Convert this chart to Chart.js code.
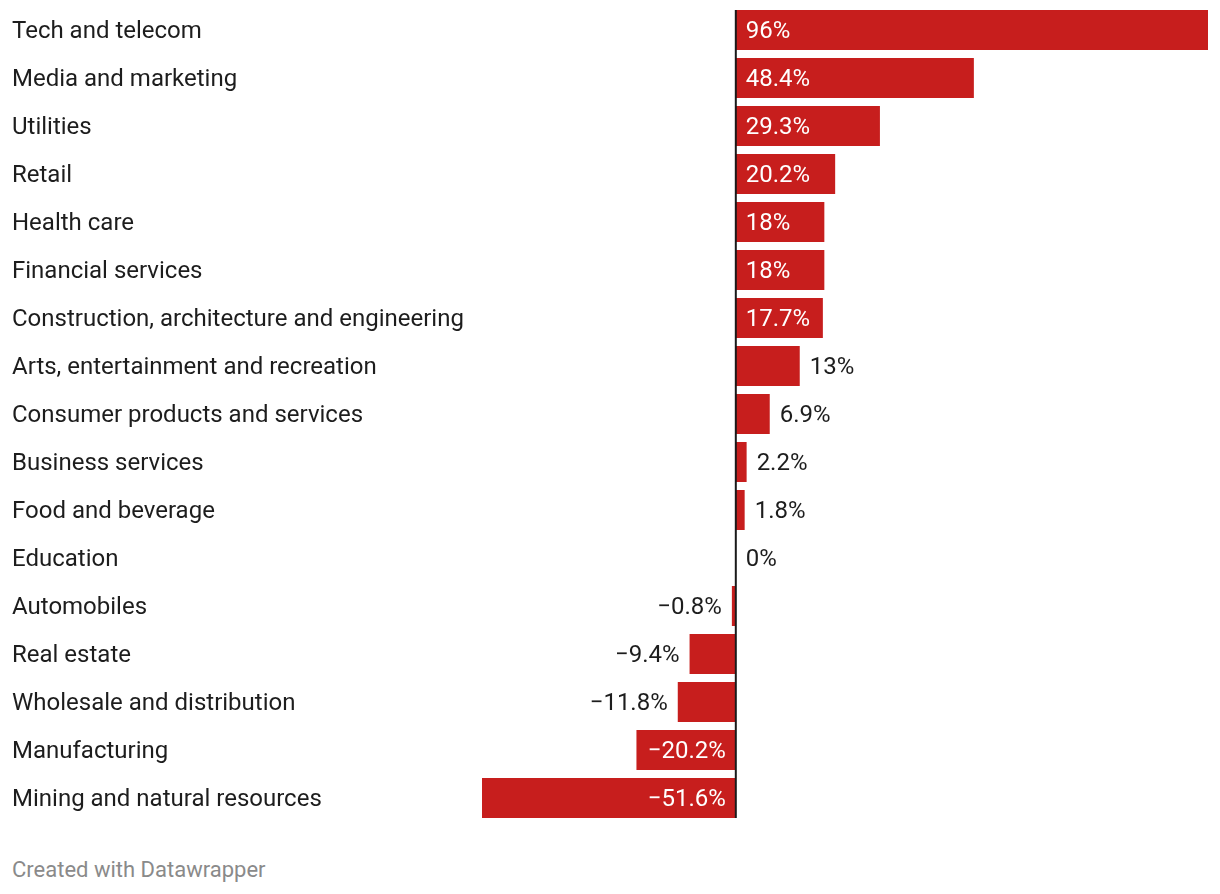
<!DOCTYPE html>
<html>
	<head>
		<meta charset="UTF-8">
		<title>Change by industry</title>
		<script src="https://cdn.jsdelivr.net/npm/chart.js@4/dist/chart.umd.min.js"></script>
		<style type="text/css">
			*{
				margin: 0;
				padding: 0;
			}
			body{
				background: #fff;
				width: 1220px;
				height: 894px;
				position: relative;
				font-family: Roboto, sans-serif;
			}
			#wrap{
				position: absolute;
				left: 0;
				top: 0;
				width: 1220px;
				height: 830px;
			}
			#credit{
				position: absolute;
				left: 12px;
				top: 857px;
				font-size: 22px;
				line-height: 26px;
				color: #8a8a8a;
			}
		</style>
	</head>
	<body>
		<div id="wrap"><canvas id="bars"></canvas></div>
		<div id="credit">Created with Datawrapper</div>
		<script type="text/javascript">
			var industries = [
				"Tech and telecom",
				"Media and marketing",
				"Utilities",
				"Retail",
				"Health care",
				"Financial services",
				"Construction, architecture and engineering",
				"Arts, entertainment and recreation",
				"Consumer products and services",
				"Business services",
				"Food and beverage",
				"Education",
				"Automobiles",
				"Real estate",
				"Wholesale and distribution",
				"Manufacturing",
				"Mining and natural resources"
			];
			var change = [96, 48.4, 29.3, 20.2, 18, 18, 17.7, 13, 6.9, 2.2, 1.8, 0, -0.8, -9.4, -11.8, -20.2, -51.6];

			var red = "#c71e1d";
			var font = "Roboto, sans-serif";

			function fmt(v){
				return (v < 0 ? "\u2212" + Math.abs(v) : "" + v) + "%";
			}

			// zero line + value labels
			var valueLabels = {
				id: "valueLabels",
				afterDatasetsDraw: function(chart){
					var ctx = chart.ctx;
					var xs = chart.scales.x;
					var meta = chart.getDatasetMeta(0);
					var x0 = xs.getPixelForValue(0);
					ctx.save();
					ctx.font = "24px " + font;
					ctx.textBaseline = "middle";
					meta.data.forEach(function(bar, i){
						var v = change[i];
						var txt = fmt(v);
						// fit test uses the number without its sign
						var w = ctx.measureText(Math.abs(v) + "%").width;
						var bw = Math.abs(bar.x - x0);
						var inside = bw > w + 22;
						var y = bar.y + 2;
						if(v >= 0){
							ctx.textAlign = "left";
							if(inside){
								ctx.fillStyle = "#fff";
								ctx.fillText(txt, x0 + 10, y);
							}else{
								ctx.fillStyle = "#1d1d1d";
								ctx.fillText(txt, bar.x + 10, y);
							}
						}else{
							ctx.textAlign = "right";
							if(inside){
								ctx.fillStyle = "#fff";
								ctx.fillText(txt, x0 - 10, y);
							}else{
								ctx.fillStyle = "#1d1d1d";
								ctx.fillText(txt, bar.x - 10, y);
							}
						}
					});
					var first = meta.data[0], last = meta.data[meta.data.length - 1];
					ctx.strokeStyle = "#1a1a1a";
					ctx.lineWidth = 2;
					ctx.beginPath();
					ctx.moveTo(x0, first.y - first.height / 2);
					ctx.lineTo(x0, last.y + last.height / 2);
					ctx.stroke();
					ctx.restore();
				}
			};

			var ctx = document.getElementById("bars").getContext("2d");
			new Chart(ctx, {
				type: "bar",
				data: {
					labels: industries,
					datasets: [{
						data: change,
						backgroundColor: red,
						borderWidth: 0,
						barPercentage: 40 / 48,
						categoryPercentage: 1
					}]
				},
				options: {
					indexAxis: "y",
					responsive: true,
					maintainAspectRatio: false,
					animation: false,
					layout: { padding: { left: 12, right: 12, top: 6, bottom: 8 } },
					plugins: {
						legend: { display: false },
						tooltip: { enabled: false }
					},
					scales: {
						x: {
							display: false,
							min: -51.6,
							max: 96
						},
						y: {
							grid: { display: false },
							border: { display: false },
							ticks: {
								crossAlign: "far",
								padding: 0,
								labelOffset: 2,
								color: "#1d1d1d",
								font: { family: font, size: 24 }
							},
							afterFit: function(axis){
								axis.width = 470;
								axis.paddingTop = 0;
								axis.paddingBottom = 0;
							}
						}
					}
				},
				plugins: [valueLabels]
			});
		</script>
	</body>
</html>
